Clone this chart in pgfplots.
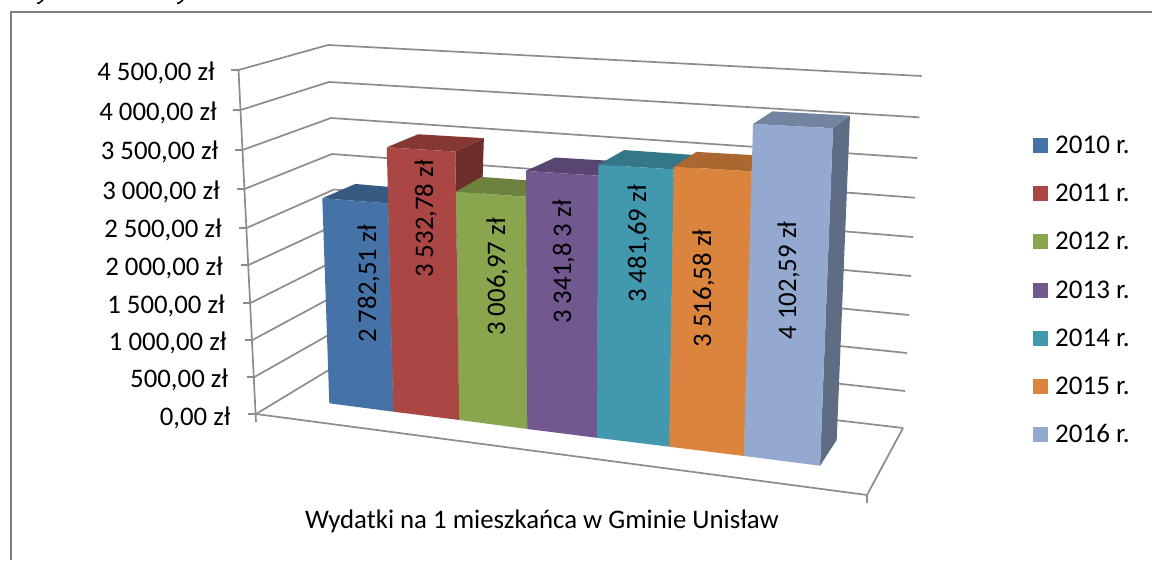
\documentclass[border=0pt]{standalone}
\usepackage{fontspec}
\setmainfont{Carlito}
\usepackage{pgfplots}
\pgfplotsset{compat=1.18}
\definecolor{cA}{HTML}{4573A7}
\definecolor{cB}{HTML}{AA4643}
\definecolor{cC}{HTML}{89A54E}
\definecolor{cD}{HTML}{71588F}
\definecolor{cE}{HTML}{4198AF}
\definecolor{cF}{HTML}{DB843D}
\definecolor{cG}{HTML}{93A9CF}
\definecolor{gl}{HTML}{8C8C8C}
\tikzset{
  wall/.style={draw=gl, line width=1.7pt},
  tl/.style={anchor=base east, font=\fontsize{26.8}{26.8}\selectfont, inner sep=0pt},
  vl/.style={rotate=90, anchor=center, font=\fontsize{26.8}{26.8}\selectfont, inner sep=0pt},
  lg/.style={anchor=base west, font=\fontsize{27}{27}\selectfont, inner sep=0pt},
}
% one 3-D bar: {value}{xl}{yl}{xr}{yr}{dxL}{dyL}{dxR}{dyR}{colour}
\newcommand\threedbar[9]{%
  \def\V{#1}\def\XL{#2}\def\YL{#3}\def\XR{#4}\def\YR{#5}%
  \def\DXL{#6}\def\DYL{#7}\def\DXR{#8}\def\DYR{#9}\threedbarC}
\newcommand\threedbarC[1]{%
  \pgfmathsetmacro\hL{(0.0737+(\YL-403.3)*0.0001356)*\V}%
  \pgfmathsetmacro\hR{(0.0737+(\YR-403.3)*0.0001356)*\V}%
  \pgfmathsetmacro\xtl{\XL+(\XL-561)/(7199-\YL)*\hL}%
  \pgfmathsetmacro\xtr{\XR+(\XR-561)/(7199-\YR)*\hR}%
  \pgfmathsetmacro\ytl{\YL-\hL}%
  \pgfmathsetmacro\ytr{\YR-\hR}%
  \pgfmathsetmacro\xbl{\xtl+\DXL}\pgfmathsetmacro\ybl{\ytl+\DYL}%
  \pgfmathsetmacro\xbr{\xtr+\DXR}\pgfmathsetmacro\ybr{\ytr+\DYR}%
  \pgfmathsetmacro\xfl{\XR+16.7}\pgfmathsetmacro\yfl{\YR-25.7}%
  \edef\temp{\noexpand\addplot[draw=none,fill=#1!64!black] coordinates {(\xtr,\ytr) (\xbr,\ybr) (\xfl,\yfl) (\XR,\YR)} -- cycle;
    \noexpand\addplot[draw=none,fill=#1!78!black] coordinates {(\xtl,\ytl) (\xbl,\ybl) (\xbr,\ybr) (\xtr,\ytr)} -- cycle;
    \noexpand\addplot[draw=none,fill=#1] coordinates {(\XL,\YL) (\XR,\YR) (\xtr,\ytr) (\xtl,\ytl)} -- cycle;}%
  \temp}
\begin{document}
\begin{tikzpicture}
\begin{axis}[
  scale only axis, width=1152pt, height=560pt,
  xmin=0, xmax=1152, ymin=0, ymax=560, y dir=reverse,
  hide axis,
  every axis plot/.append style={mark=none},
]
% outer frame and cut-off text above it
\addplot[draw=gl!90!black, line width=1.7pt] coordinates {(11,560) (11,12) (1152,12)};
\addplot[black, line width=1.5pt] coordinates {(43,0) (39,3) (37,3)};
\addplot[black, line width=1.5pt] coordinates {(183,0) (179,3) (177,3)};
% value axis, ticks and walls: 4500, 4000, ... 0
\addplot[wall] coordinates {(238.5,70) (256,422)};
\addplot[wall] coordinates {(231,70) (238.5,70) (328,45) (921.7,76)};
\addplot[wall] coordinates {(233,110) (240.5,110) (329,82) (919.3,117.3)};
\addplot[wall] coordinates {(235,150) (242.5,150) (331,118) (917.3,158)};
\addplot[wall] coordinates {(237,189) (244.5,189) (332,154) (915,197.7)};
\addplot[wall] coordinates {(239,228) (246.5,228) (334,189.5) (913,237)};
\addplot[wall] coordinates {(241,265) (248.5,265) (336,224.5) (911,276)};
\addplot[wall] coordinates {(243,303) (250.5,303) (337,259.5) (909,315)};
\addplot[wall] coordinates {(245,340) (252.5,340) (338,294) (907,353)};
\addplot[wall] coordinates {(247,377) (254.5,377) (340,328.5) (905,391)};
\addplot[wall] coordinates {(248,414) (256,414) (342,362) (903,428)};
% floor
\addplot[wall] coordinates {(256,414) (867,495) (903,428)};
\addplot[wall] coordinates {(867,495) (867,503)};
% bars
\threedbar{2782.51}{329.3}{403.3}{393.3}{411.7}{33}{-14.3}{30}{-14}{cA}
\threedbar{3532.78}{393.3}{411.7}{459.3}{420}{31.3}{-13}{28.6}{-13.4}{cB}
\threedbar{3006.97}{459.3}{420}{527.3}{429}{26}{-14.6}{27}{-14.5}{cC}
\threedbar{3341.83}{527.3}{429}{597}{437.8}{29}{-13.4}{27}{-14}{cD}
\threedbar{3481.69}{597}{437.8}{669.3}{446.7}{25.7}{-14.7}{26}{-14}{cE}
\threedbar{3516.58}{669.3}{446.7}{744}{456}{22.7}{-14.7}{24}{-15}{cF}
\threedbar{4102.59}{744}{456}{820}{465.7}{19.4}{-12.6}{17}{-12.6}{cG}
% value labels
\node[vl] at (axis cs:368.5,284) {2 782,51 zł};
\node[vl] at (axis cs:425.5,219) {3 532,78 zł};
\node[vl] at (axis cs:497.5,277) {3 006,97 zł};
\node[vl] at (axis cs:563.5,262) {3 341,8 3 zł};
\node[vl] at (axis cs:638.5,244) {3 481,69 zł};
\node[vl] at (axis cs:703.5,288.5) {3 516,58 zł};
\node[vl] at (axis cs:788.5,280.5) {4 102,59 zł};
% tick labels
\node[tl] at (axis cs:215,80) {4 500,00 zł};
\node[tl] at (axis cs:217,120) {4 000,00 zł};
\node[tl] at (axis cs:218.5,159) {3 500,00 zł};
\node[tl] at (axis cs:220,199) {3 000,00 zł};
\node[tl] at (axis cs:222,237) {2 500,00 zł};
\node[tl] at (axis cs:223,275) {2 000,00 zł};
\node[tl] at (axis cs:225,313) {1 500,00 zł};
\node[tl] at (axis cs:226.7,350) {1 000,00 zł};
\node[tl] at (axis cs:228.3,387) {500,00 zł};
\node[tl] at (axis cs:230.7,425) {0,00 zł};
% legend
\addplot[draw=none,fill=cA] coordinates {(1033,138) (1048,138) (1048,153) (1033,153)} -- cycle;
\addplot[draw=none,fill=cB] coordinates {(1033,186) (1048,186) (1048,201) (1033,201)} -- cycle;
\addplot[draw=none,fill=cC] coordinates {(1033,234) (1048,234) (1048,249) (1033,249)} -- cycle;
\addplot[draw=none,fill=cD] coordinates {(1033,283) (1048,283) (1048,298) (1033,298)} -- cycle;
\addplot[draw=none,fill=cE] coordinates {(1033,331) (1048,331) (1048,346) (1033,346)} -- cycle;
\addplot[draw=none,fill=cF] coordinates {(1033,379) (1048,379) (1048,394) (1033,394)} -- cycle;
\addplot[draw=none,fill=cG] coordinates {(1033,427) (1048,427) (1048,442) (1033,442)} -- cycle;
\node[lg] at (axis cs:1055,153) {2010 r.};
\node[lg] at (axis cs:1055,201) {2011 r.};
\node[lg] at (axis cs:1055,249) {2012 r.};
\node[lg] at (axis cs:1055,298) {2013 r.};
\node[lg] at (axis cs:1055,346) {2014 r.};
\node[lg] at (axis cs:1055,394) {2015 r.};
\node[lg] at (axis cs:1055,442) {2016 r.};
\node[anchor=base, font=\fontsize{26.8}{26.8}\selectfont, inner sep=0pt] at (axis cs:542,528) {Wydatki na 1 mieszkańca w Gminie Unisław};
\end{axis}
\path[use as bounding box] (current axis.south west) rectangle (current axis.north east);
\end{tikzpicture}
\end{document}
